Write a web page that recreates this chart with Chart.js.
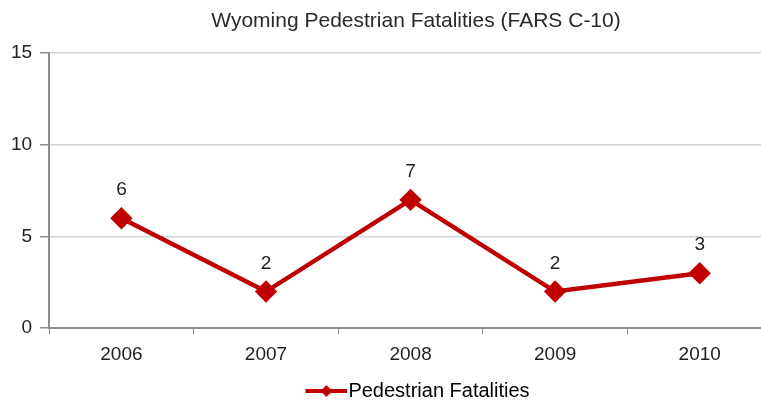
<!DOCTYPE html>
<html>
<head>
<meta charset="utf-8">
<script src="https://cdn.jsdelivr.net/npm/chart.js@4"></script>
<style>
  html, body { margin: 0; padding: 0; background: #fff; overflow: hidden; }
  #wrap { width: 829px; height: 402px; }
</style>
</head>
<body>
<div id="wrap"><canvas id="myChart"></canvas></div>
<script>
"use strict";

const years = ["2006", "2007", "2008", "2009", "2010"];
const fatalities = [6, 2, 7, 2, 3];
const yTicks = [0, 5, 10, 15];

const darkRed = "#c00000";
const textColor = "#1f1f1f";
const axisGray = "#8c8c8c";
const gridGray = "#d4d4d4";
const fontFamily = "'Liberation Sans', Arial, sans-serif";

// legend swatch: short line with a diamond, drawn off-centre so it sits
// right against the legend text
const swatch = document.createElement("canvas");
swatch.width = 54;
swatch.height = 14;
const sctx = swatch.getContext("2d");
sctx.strokeStyle = darkRed;
sctx.lineWidth = 4;
sctx.beginPath();
sctx.moveTo(12, 7);
sctx.lineTo(54, 7);
sctx.stroke();
sctx.fillStyle = darkRed;
sctx.beginPath();
sctx.moveTo(33, 1);
sctx.lineTo(39, 7);
sctx.lineTo(33, 13);
sctx.lineTo(27, 7);
sctx.closePath();
sctx.fill();

// value labels above each point
const valueLabels = {
  id: "valueLabels",
  afterDatasetsDraw(chart) {
    const c = chart.ctx;
    const meta = chart.getDatasetMeta(0);
    c.save();
    c.font = "19px " + fontFamily;
    c.fillStyle = textColor;
    c.textAlign = "center";
    c.textBaseline = "middle";
    meta.data.forEach((pt, i) => {
      c.fillText(String(fatalities[i]), pt.x, pt.y - 28);
    });
    c.restore();
  },
};

const ctx = document.getElementById("myChart");

new Chart(ctx, {
  type: "line",
  data: {
    labels: years,
    datasets: [
      {
        label: "Pedestrian Fatalities",
        data: fatalities,
        borderColor: darkRed,
        backgroundColor: darkRed,
        borderWidth: 4.5,
        pointStyle: "rectRot",
        pointRadius: 8,
        pointHoverRadius: 8,
        tension: 0,
      },
    ],
  },
  options: {
    responsive: true,
    maintainAspectRatio: false,
    animation: false,
    layout: {
      padding: { left: 3, right: 0, top: 4, bottom: -9 },
    },
    scales: {
      x: {
        offset: true,
        afterFit: (axis) => {
          axis.height += 6;
        },
        grid: {
          display: true,
          offset: true,
          drawOnChartArea: false,
          drawTicks: true,
          tickLength: 6,
          color: axisGray,
        },
        border: { color: axisGray, width: 2 },
        ticks: {
          color: textColor,
          padding: 9,
          font: { size: 19, family: fontFamily },
        },
      },
      y: {
        min: 0,
        max: 15,
        afterBuildTicks: (axis) => {
          axis.ticks = yTicks.map((v) => ({ value: v }));
        },
        grid: {
          color: gridGray,
          lineWidth: 1.5,
          tickLength: 9,
          tickColor: axisGray,
        },
        border: { color: axisGray, width: 2 },
        ticks: {
          color: textColor,
          padding: 8,
          font: { size: 19, family: fontFamily },
        },
      },
      // empty right-hand space (the plot runs past the window edge)
      spacer: {
        type: "linear",
        position: "right",
        display: true,
        grid: { display: false },
        border: { display: false },
        ticks: { display: false },
        afterFit: (axis) => {
          axis.width = 57;
        },
      },
    },
    plugins: {
      title: {
        display: true,
        text: "Wyoming Pedestrian Fatalities (FARS C-10)",
        color: "#2a2a2a",
        font: { size: 21, weight: "normal", family: fontFamily },
        padding: { top: 5, bottom: 19 },
      },
      legend: {
        position: "bottom",
        labels: {
          color: textColor,
          usePointStyle: true,
          pointStyleWidth: 36,
          boxHeight: 14,
          padding: 0,
          font: { size: 20, family: fontFamily },
          generateLabels: (chart) => [
            {
              text: chart.data.datasets[0].label,
              pointStyle: swatch,
              fillStyle: darkRed,
              strokeStyle: darkRed,
              lineWidth: 0,
              hidden: false,
              datasetIndex: 0,
            },
          ],
        },
      },
      tooltip: { enabled: false },
    },
  },
  plugins: [valueLabels],
});
</script>
</body>
</html>
